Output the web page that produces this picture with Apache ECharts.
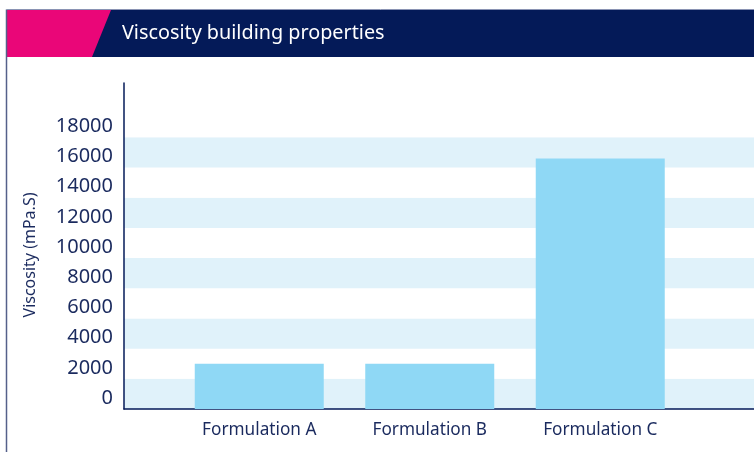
<!DOCTYPE html>
<html><head><meta charset="utf-8">
<script src="https://cdn.jsdelivr.net/npm/echarts@6/dist/echarts.min.js"></script>
<style>html,body{margin:0;padding:0;background:#fff}#c{width:754px;height:452px}</style>
</head><body><div id="c"></div>
<script>
const categories = ['Formulation A', 'Formulation B', 'Formulation C'];
const viscosity = [3000, 3000, 16600];
const yTickLabels = ['0','2000','4000','6000','8000','10000','12000','14000','16000','18000'];
const titleText = 'Viscosity building properties';
const yAxisName = 'Viscosity (mPa.S)';

const NAVY = '#041a58', PINK = '#ea0678', TXT = '#1a2a5e';
const FONT = '"Noto Sans", sans-serif';
const chart = echarts.init(document.getElementById('c'));
const yMax = 21600;
chart.setOption({
  animation: false,
  textStyle: { fontFamily: FONT },
  grid: [
    { left: 124, right: 0, top: 83, bottom: 43 },
    { left: 174, width: 511.5, top: 83, bottom: 43 }
  ],
  xAxis: [
    { gridIndex: 0, type: 'value', min: 0, max: 1, axisLine: { show: true, lineStyle: { color: NAVY, width: 1.5 } },
      axisTick: { show: false }, axisLabel: { show: false }, splitLine: { show: false } },
    { gridIndex: 1, type: 'category', data: categories, axisLine: { show: false }, axisTick: { show: false },
      axisLabel: { color: TXT, fontSize: 17.2, margin: 13, fontFamily: FONT } }
  ],
  yAxis: [
    { gridIndex: 0, type: 'value', min: 0, max: yMax, interval: 2000,
      name: yAxisName, nameLocation: 'middle', nameGap: 86,
      nameTextStyle: { color: TXT, fontSize: 16, fontFamily: FONT, padding: [0, 18, 0, 0] },
      axisLine: { show: true, lineStyle: { color: NAVY, width: 1.5 } },
      axisTick: { show: false }, splitLine: { show: false },
      splitArea: { show: true, areaStyle: { color: ['#e0f2fa','#ffffff','#e0f2fa','#ffffff','#e0f2fa','#ffffff','#e0f2fa','#ffffff','#e0f2fa','#ffffff','#ffffff'] } },
      axisLabel: { color: TXT, fontSize: 20, margin: 11, verticalAlign: 'bottom', lineHeight: 22, fontFamily: FONT,
        formatter: v => { const i = Math.round(v / 2000); return (v % 2000 === 0 && i < yTickLabels.length) ? yTickLabels[i] : ''; } } },
    { gridIndex: 1, type: 'value', min: 0, max: yMax, show: false }
  ],
  series: [{
    type: 'bar', xAxisIndex: 1, yAxisIndex: 1, data: viscosity, barWidth: 129,
    itemStyle: { color: '#8fd8f5' }
  }],
  graphic: [
    { type: 'rect', shape: { x: 7, y: 10, width: 747, height: 47 }, style: { fill: NAVY }, z: 10 },
    { type: 'polygon', shape: { points: [[7,10],[111,10],[92,57],[7,57]] }, style: { fill: PINK }, z: 11 },
    { type: 'line', shape: { x1: 6.5, y1: 9.5, x2: 6.5, y2: 452 }, style: { stroke: '#55608a', lineWidth: 1.5 }, z: 12 },
    { type: 'line', shape: { x1: 6.5, y1: 9.5, x2: 754, y2: 9.5 }, style: { stroke: '#8a93b3', lineWidth: 1 }, z: 12 },
    { type: 'text', x: 122, y: 33, style: { text: titleText, fill: '#ffffff', fontSize: 19.8, fontFamily: FONT, verticalAlign: 'middle' }, z: 12 }
  ]
});
</script></body></html>
